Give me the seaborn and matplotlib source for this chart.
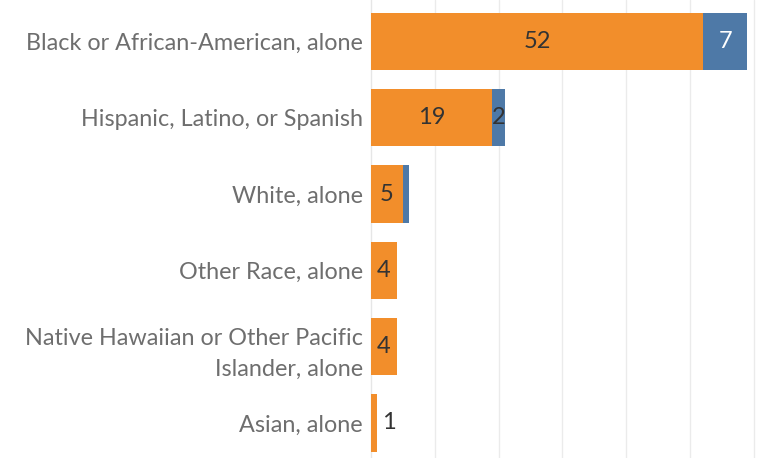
import matplotlib
matplotlib.use("Agg")
import matplotlib.pyplot as plt
import seaborn as sns
import pandas as pd

categories = [
    "Black or African-American, alone",
    "Hispanic, Latino, or Spanish",
    "White, alone",
    "Other Race, alone",
    "Native Hawaiian or Other Pacific\nIslander, alone",
    "Asian, alone",
]
orange_vals = [52, 19, 5, 4, 4, 1]
blue_vals = [7, 2, 1, 0, 0, 0]
show_blue_label = [True, True, False, False, False, False]

ORANGE = "#F28E2B"
BLUE = "#4E79A7"

sns.set_theme(style="white")
plt.rcParams["font.family"] = ["Lato", "DejaVu Sans"]

df = pd.DataFrame({
    "cat": categories,
    "orange": orange_vals,
    "blue": blue_vals,
})
df["total"] = df["orange"] + df["blue"]

fig = plt.figure(figsize=(7.57, 4.58), dpi=100)
ax = fig.add_axes([371 / 757, 0, (757 - 371) / 757, 1])

sns.barplot(data=df, y="cat", x="total", color=BLUE, orient="h", width=0.75,
            saturation=1, ax=ax, zorder=3, linewidth=0)
sns.barplot(data=df, y="cat", x="orange", color=ORANGE, orient="h", width=0.75,
            saturation=1, ax=ax, zorder=3, linewidth=0)

ax.set_xlim(0, 60.5)
ax.set_ylim(5.46, -0.544)
ax.set_xticks([10, 20, 30, 40, 50, 60])
ax.xaxis.grid(True, color="#EBEBEB", linewidth=1, zorder=0)
ax.set_xticklabels([])
ax.tick_params(axis="x", length=0)
ax.tick_params(axis="y", length=0, pad=6, labelsize=16.8, labelcolor="#6E6E6E")
for lab in ax.get_yticklabels():
    lab.set_linespacing(1.6)
ax.set_xlabel("")
ax.set_ylabel("")
for s in ["top", "right", "bottom"]:
    ax.spines[s].set_visible(False)
ax.spines["left"].set_color("#E6E6E6")
ax.spines["left"].set_linewidth(1)

for i, (o, b) in enumerate(zip(orange_vals, blue_vals)):
    if o >= 3:
        ax.text(o / 2, i, str(o), ha="center", va="center", fontsize=17,
                color="#333333", zorder=5)
    else:
        ax.text(o + b + 0.7, i, str(o), ha="left", va="center", fontsize=17,
                color="#333333", zorder=5)
    if b > 0 and show_blue_label[i]:
        col = "white" if b >= 4 else "#333333"
        ax.text(o + b / 2, i, str(b), ha="center", va="center", fontsize=17,
                color=col, zorder=5)

fig.savefig("out.png", dpi=100)
